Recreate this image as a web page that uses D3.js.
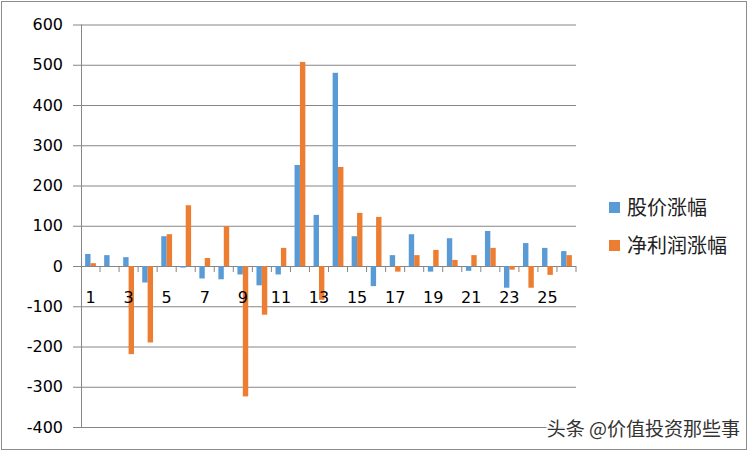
<!DOCTYPE html>
<html>
<head>
<meta charset="utf-8">
<script src="https://cdn.jsdelivr.net/npm/d3@7"></script>
<style>
  body { margin: 0; background: #fff; }
  svg { display: block; }
</style>
</head>
<body>
<svg width="753" height="453"></svg>
<script>
var categories = d3.range(1, 27);
var seriesNames = ["股价涨幅", "净利润涨幅"];
var stockChange = [30, 27, 22, -41, 74, -4, -31, -33, -21, -48, -21, 251, 127, 480, 74, -50, 27, 79, -14, 69, -12, 87, -54, 57, 45, 37];
var profitChange = [7, 0, -219, -190, 79, 151, 20, 99, -324, -121, 45, 507, -84, 246, 132, 122, -14, 27, 40, 15, 27, 45, -9, -54, -22, 27];
var yTicks = [-400, -300, -200, -100, 0, 100, 200, 300, 400, 500, 600];
var colors = ["#5b9bd5", "#ed7d31"];

var svg = d3.select("svg");
var margin = {left: 81, right: 177, top: 24.5, bottom: 26};
var width = 753, height = 453;

// outer frame
svg.append("rect")
  .attr("x", 1.5).attr("y", 1.5)
  .attr("width", 745).attr("height", 448)
  .attr("fill", "#fff")
  .attr("stroke", "#8c8c8c");

var y = d3.scaleLinear().domain([-400, 600]).range([height - margin.bottom, margin.top]);
var x = d3.scaleBand().domain(categories).range([margin.left, width - margin.right]);
var bw = x.bandwidth();
var barW = 5.4;
var x1 = d3.scaleBand().domain(seriesNames)
  .range([(bw - 2 * barW) / 2, (bw + 2 * barW) / 2]);

// gridlines + y labels (tick marks stick out 8px left of the axis)
var right = width - margin.right;
var yAxis = d3.axisLeft(y).tickValues(yTicks)
  .tickFormat(function(d) { return String(d); })
  .tickSize(right - margin.left + 8).tickPadding(10);
var gy = svg.append("g")
  .attr("transform", "translate(" + right + ",0)")
  .call(yAxis);
gy.select(".domain").remove();
gy.selectAll("line").attr("stroke", "#868686");
gy.selectAll("text")
  .attr("font-family", "DejaVu Sans")
  .attr("font-size", 16)
  .attr("fill", "#000");

// vertical axis line
svg.append("line")
  .attr("x1", margin.left + 0.5).attr("x2", margin.left + 0.5)
  .attr("y1", y(600)).attr("y2", y(-400))
  .attr("stroke", "#868686");

// bars
var rows = categories.map(function(c, i) {
  return {cat: c, values: [stockChange[i], profitChange[i]]};
});
var groups = svg.append("g").selectAll("g")
  .data(rows)
  .join("g")
  .attr("transform", function(d) { return "translate(" + x(d.cat) + ",0)"; });
groups.selectAll("rect")
  .data(function(d) { return d.values.map(function(v, k) { return {name: seriesNames[k], v: v, k: k}; }); })
  .join("rect")
  .attr("x", function(d) { return x1(d.name); })
  .attr("width", x1.bandwidth())
  .attr("y", function(d) { return y(Math.max(0, d.v)); })
  .attr("height", function(d) { return Math.abs(y(d.v) - y(0)); })
  .attr("fill", function(d) { return colors[d.k]; });

// category boundary ticks on zero line
svg.append("g").selectAll("line")
  .data(categories)
  .join("line")
  .attr("x1", function(d) { return x(d) + bw; })
  .attr("x2", function(d) { return x(d) + bw; })
  .attr("y1", y(0)).attr("y2", y(0) + 6)
  .attr("stroke", "#868686");

// x labels, every other category
var xAxis = d3.axisBottom(x)
  .tickValues(categories.filter(function(d) { return d % 2 === 1; }))
  .tickSize(0).tickPadding(26);
var gx = svg.append("g")
  .attr("transform", "translate(0," + y(0) + ")")
  .call(xAxis);
gx.select(".domain").remove();
gx.selectAll("text")
  .attr("font-family", "DejaVu Sans")
  .attr("font-size", 16)
  .attr("fill", "#000");

// legend
var legend = svg.append("g").selectAll("g")
  .data(seriesNames)
  .join("g")
  .attr("transform", function(d, i) { return "translate(609," + (202 + i * 38) + ")"; });
legend.append("rect")
  .attr("width", 11).attr("height", 11)
  .attr("fill", function(d, i) { return colors[i]; });
legend.append("text")
  .attr("x", 18).attr("y", 6)
  .attr("dy", "0.35em")
  .attr("font-family", "Noto Sans CJK SC")
  .attr("font-size", 20)
  .attr("fill", "#222")
  .text(function(d) { return d; });

// watermark
svg.append("text")
  .attr("x", 740).attr("y", 429)
  .attr("dy", "0.35em")
  .attr("text-anchor", "end")
  .attr("font-family", "Noto Sans CJK SC")
  .attr("font-size", 19)
  .attr("fill", "#333")
  .attr("stroke", "#fff")
  .attr("stroke-width", 3)
  .attr("paint-order", "stroke")
  .text("头条 @价值投资那些事");
</script>
</body>
</html>
